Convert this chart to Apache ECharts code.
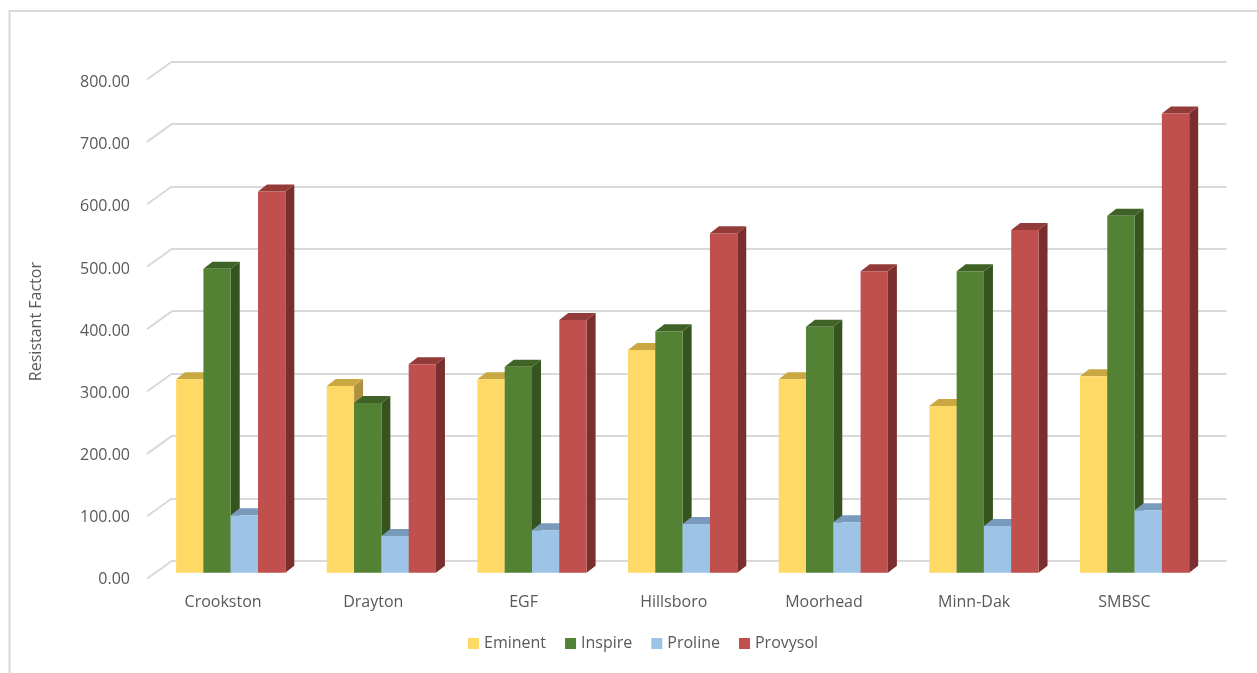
<!DOCTYPE html>
<html><head><meta charset="utf-8">
<style>html,body{margin:0;padding:0;background:#fff}#c{width:1257px;height:673px}</style>
<script src="https://cdn.jsdelivr.net/npm/echarts@6/dist/echarts.min.js"></script>
</head><body><div id="c"></div>
<script>
const categories = ['Crookston','Drayton','EGF','Hillsboro','Moorhead','Minn-Dak','SMBSC'];
const tickValues = [0,100,200,300,400,500,600,700,800];
const eminent  = [310,299,310,357,310,267,315];
const inspire  = [487,272,330,387,394,483,572];
const proline  = [92,59,68,78,81,75,100];
const provysol = [611,334,405,544,483,549,736];
const seriesNames = ['Eminent','Inspire','Proline','Provysol'];
const seriesValues = [eminent,inspire,proline,provysol];
const frontColors = ['#FFD966','#548235','#9DC3E6','#C0504D'];
const topColors   = ['#C9A842','#3F6227','#7A9ABB','#933B39'];
const sideColors  = ['#AD9140','#36541F','#6B8AA8','#7A2F2E'];

const FONT = '"Open Sans", sans-serif';
const TEXT = '#595959';
const DX=-25, DY=18;        // front plane relative to back wall
const BDX=-16.6, BDY=12;    // bar front face relative to back wall
const BW=27.3, DEPX=9, DEPY=7;

function barRender(si){
  return function(params, api){
    const c = api.value(0), v = api.value(1);
    const p = api.coord([c, v]);
    const z = api.coord([c, 0]);
    const x = p[0] + BDX - 2*BW + si*BW;
    const yT = p[1] + BDY, yB = z[1] + BDY;
    const f=frontColors[si], t=topColors[si], s=sideColors[si];
    return {type:'group', children:[
      {type:'polygon', shape:{points:[[x+BW,yT],[x+BW+DEPX,yT-DEPY],[x+BW+DEPX,yB-DEPY],[x+BW,yB]]}, style:{fill:s}},
      {type:'polygon', shape:{points:[[x,yT],[x+DEPX,yT-DEPY],[x+BW+DEPX,yT-DEPY],[x+BW,yT]]}, style:{fill:t}},
      {type:'rect', shape:{x:x,y:yT,width:BW,height:yB-yT}, style:{fill:f}}
    ]};
  };
}
const bars = seriesNames.map((name,si)=>({
  name, type:'custom', xAxisIndex:1, yAxisIndex:1, z:5,
  itemStyle:{color:frontColors[si]},
  renderItem:barRender(si),
  encode:{x:0,y:1},
  data:seriesValues[si].map((v,i)=>[i,v])
}));
const slants = {
  type:'custom', xAxisIndex:1, yAxisIndex:1, z:2, silent:true,
  renderItem(params, api){
    const p = api.coord([0, api.value(0)]);
    const x0 = params.coordSys.x;
    return {type:'line', shape:{x1:x0,y1:p[1],x2:x0+DX,y2:p[1]+DY}, style:{stroke:'#D9D9D9',lineWidth:2}};
  },
  encode:{y:0},
  data:tickValues.map(v=>[v])
};
const chart = echarts.init(document.getElementById('c'),null,{renderer:'canvas'});
chart.setOption({
  animation:false, backgroundColor:'#fff',
  graphic:[{type:'polyline', silent:true, z:0, shape:{points:[[9.5,673],[9.5,11],[1257,11]]}, style:{stroke:'#D9D9D9',lineWidth:2,fill:null}}],
  legend:{data:seriesNames, left:463, top:630.5, itemWidth:11, itemHeight:11, itemGap:19, icon:'rect',
    textStyle:{color:TEXT,fontFamily:FONT,fontSize:16}},
  grid:[
    {left:148, width:1051.5, top:82.5, height:497.2},
    {left:172, width:1054.5, top:61.5, height:499.2}
  ],
  xAxis:[
    {type:'category', gridIndex:0, data:categories, axisLine:{show:false}, axisTick:{show:false},
     axisLabel:{color:TEXT,fontFamily:FONT,fontSize:16,margin:15}},
    {type:'category', gridIndex:1, data:categories, axisLine:{show:false}, axisTick:{show:false}, axisLabel:{show:false}}
  ],
  yAxis:[
    {type:'value', gridIndex:0, min:0, max:800, interval:100, axisLine:{show:false}, axisTick:{show:false},
     splitLine:{show:false},
     axisLabel:{color:TEXT,fontFamily:FONT,fontSize:16,margin:18,formatter:v=>v.toFixed(2)},
     name:'Resistant Factor', nameLocation:'middle', nameGap:104,
     nameTextStyle:{color:TEXT,fontFamily:FONT,fontSize:16,padding:[0,0,0,19]}},
    {type:'value', gridIndex:1, min:0, max:800, interval:100, axisLine:{show:false}, axisTick:{show:false},
     axisLabel:{show:false}, splitLine:{lineStyle:{color:'#D9D9D9',width:2}}}
  ],
  series:[slants, ...bars]
});
</script></body></html>
